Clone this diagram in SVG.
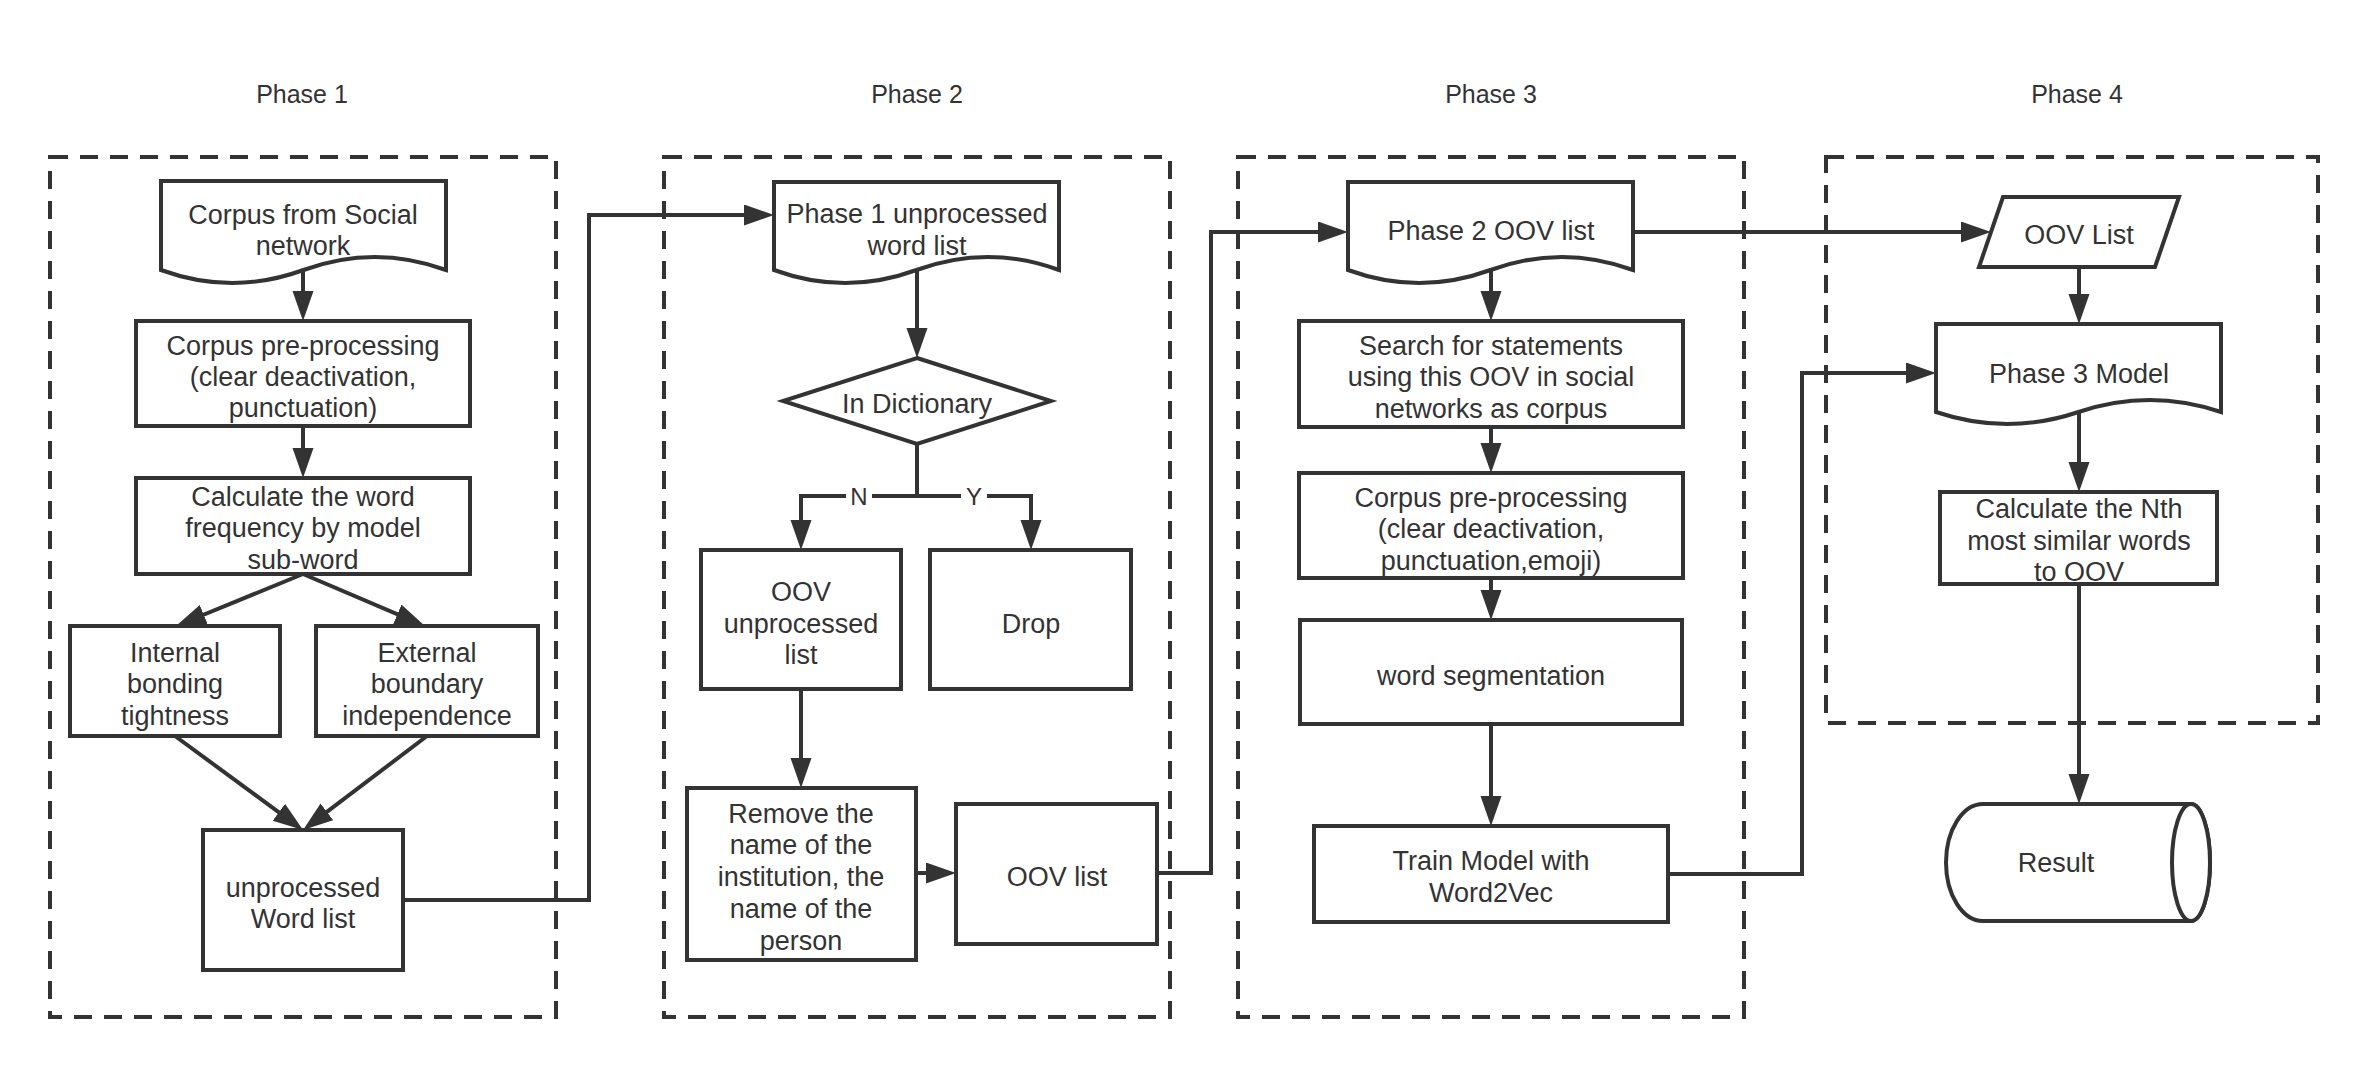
<svg xmlns="http://www.w3.org/2000/svg" width="2368" height="1068" viewBox="0 0 2368 1068">
<defs>
<marker id="arr" markerUnits="userSpaceOnUse" markerWidth="30" markerHeight="22" refX="22" refY="10.5" orient="auto">
<path d="M0,0 L30,10.5 L0,21 Z" fill="#333333"/>
</marker>
<style>
.t{font-family:"Liberation Sans",Arial,Helvetica,sans-serif;font-size:27px;fill:#333333;text-anchor:middle}
.ph{font-family:"Liberation Sans",Arial,Helvetica,sans-serif;font-size:25px;fill:#333333;text-anchor:middle}
.lb{font-family:"Liberation Sans",Arial,Helvetica,sans-serif;font-size:24px;fill:#333333;text-anchor:middle}
.n{fill:#ffffff;stroke:#333333;stroke-width:4}
.dash{fill:none;stroke:#333333;stroke-width:4;stroke-dasharray:18 12}
.c{fill:none;stroke:#333333;stroke-width:4;marker-end:url(#arr)}
.cn{fill:none;stroke:#333333;stroke-width:4}
</style>
</defs>
<rect width="2368" height="1068" fill="#ffffff"/>

<g id="phases">
<text class="ph" x="302" y="103">Phase 1</text>
<text class="ph" x="917" y="103">Phase 2</text>
<text class="ph" x="1491" y="103">Phase 3</text>
<text class="ph" x="2077" y="103">Phase 4</text>
<rect class="dash" x="50" y="157" width="506" height="860"/>
<rect class="dash" x="664" y="157" width="506" height="860"/>
<rect class="dash" x="1238" y="157" width="506" height="860"/>
<rect class="dash" x="1826" y="157" width="492" height="566"/>
</g>

<g id="connectors">
<path class="c" d="M303,270 V313"/>
<path class="c" d="M303,426 V470"/>
<path class="c" d="M303,574 L183.4,623"/>
<path class="c" d="M303,574 L417.6,622.9"/>
<path class="c" d="M175,736 L296.6,825.3"/>
<path class="c" d="M427,736 L309.4,825.2"/>
<path class="c" d="M403,900 H589 V215 H766"/>
<path class="c" d="M917,270 V350"/>
<path class="c" d="M917,444 V496 H801 V542"/>
<path class="c" d="M917,496 H1031 V542"/>
<path class="c" d="M801,689 V780"/>
<path class="c" d="M916,873 H948"/>
<path class="c" d="M1157,873 H1211 V232 H1340"/>
<path class="c" d="M1491,270 V313"/>
<path class="c" d="M1491,427 V465"/>
<path class="c" d="M1491,578 V612"/>
<path class="c" d="M1491,724 V818"/>
<path class="c" d="M1668,874 H1802 V373 H1928"/>
<path class="c" d="M1633,232 H1983"/>
<path class="c" d="M2079,267 V316"/>
<path class="c" d="M2079,412 V484"/>
<path class="c" d="M2079,584 V796"/>
<rect x="846" y="484" width="26" height="26" fill="#ffffff"/>
<text class="lb" x="859" y="505">N</text>
<rect x="961" y="484" width="26" height="26" fill="#ffffff"/>
<text class="lb" x="974" y="505">Y</text>
</g>

<g id="corpus-social">
<path class="n" d="M161,181 H446 V270 Q374.75,244 303.5,270 Q232.25,296 161,270 Z"/>
<text class="t" x="303" y="224">Corpus from Social</text>
<text class="t" x="303" y="255">network</text>
</g>
<g id="preprocess1">
<rect class="n" x="136" y="321" width="334" height="105"/>
<text class="t" x="303" y="355">Corpus pre-processing</text>
<text class="t" x="303" y="386">(clear deactivation,</text>
<text class="t" x="303" y="417">punctuation)</text>
</g>
<g id="calc-freq">
<rect class="n" x="136" y="478" width="334" height="96"/>
<text class="t" x="303" y="506">Calculate the word</text>
<text class="t" x="303" y="537">frequency by model</text>
<text class="t" x="303" y="569">sub-word</text>
</g>
<g id="internal">
<rect class="n" x="70" y="626" width="210" height="110"/>
<text class="t" x="175" y="662">Internal</text>
<text class="t" x="175" y="693">bonding</text>
<text class="t" x="175" y="725">tightness</text>
</g>
<g id="external">
<rect class="n" x="316" y="626" width="222" height="110"/>
<text class="t" x="427" y="662">External</text>
<text class="t" x="427" y="693">boundary</text>
<text class="t" x="427" y="725">independence</text>
</g>
<g id="unprocessed">
<rect class="n" x="203" y="830" width="200" height="140"/>
<text class="t" x="303" y="897">unprocessed</text>
<text class="t" x="303" y="928">Word list</text>
</g>

<g id="phase1-list">
<path class="n" d="M774,182 H1059 V270 Q987.75,244 916.5,270 Q845.25,296 774,270 Z"/>
<text class="t" x="917" y="223">Phase 1 unprocessed</text>
<text class="t" x="917" y="255">word list</text>
</g>
<g id="in-dictionary">
<path class="n" d="M917,358 L1051,401 L917,444 L783,401 Z"/>
<text class="t" x="917" y="413">In Dictionary</text>
</g>
<g id="oov-unprocessed">
<rect class="n" x="701" y="550" width="200" height="139"/>
<text class="t" x="801" y="601">OOV</text>
<text class="t" x="801" y="633">unprocessed</text>
<text class="t" x="801" y="664">list</text>
</g>
<g id="drop">
<rect class="n" x="930" y="550" width="201" height="139"/>
<text class="t" x="1031" y="633">Drop</text>
</g>
<g id="remove-names">
<rect class="n" x="687" y="788" width="229" height="172"/>
<text class="t" x="801" y="823">Remove the</text>
<text class="t" x="801" y="854">name of the</text>
<text class="t" x="801" y="886">institution, the</text>
<text class="t" x="801" y="918">name of the</text>
<text class="t" x="801" y="950">person</text>
</g>
<g id="oov-list-2">
<rect class="n" x="956" y="804" width="201" height="140"/>
<text class="t" x="1057" y="886">OOV list</text>
</g>

<g id="phase2-oov">
<path class="n" d="M1348,182 H1633 V270 Q1561.75,244 1490.5,270 Q1419.25,296 1348,270 Z"/>
<text class="t" x="1491" y="240">Phase 2 OOV list</text>
</g>
<g id="search">
<rect class="n" x="1299" y="321" width="384" height="106"/>
<text class="t" x="1491" y="355">Search for statements</text>
<text class="t" x="1491" y="386">using this OOV in social</text>
<text class="t" x="1491" y="418">networks as corpus</text>
</g>
<g id="preprocess2">
<rect class="n" x="1299" y="473" width="384" height="105"/>
<text class="t" x="1491" y="507">Corpus pre-processing</text>
<text class="t" x="1491" y="538">(clear deactivation,</text>
<text class="t" x="1491" y="570">punctuation,emoji)</text>
</g>
<g id="segmentation">
<rect class="n" x="1300" y="620" width="382" height="104"/>
<text class="t" x="1491" y="685">word segmentation</text>
</g>
<g id="train">
<rect class="n" x="1314" y="826" width="354" height="96"/>
<text class="t" x="1491" y="870">Train Model with</text>
<text class="t" x="1491" y="902">Word2Vec</text>
</g>

<g id="oov-list-input">
<path class="n" d="M2003,197 H2179 L2155,267 H1979 Z"/>
<text class="t" x="2079" y="244">OOV List</text>
</g>
<g id="phase3-model">
<path class="n" d="M1936,324 H2221 V412 Q2149.75,388 2078.5,412 Q2007.25,436 1936,412 Z"/>
<text class="t" x="2079" y="383">Phase 3 Model</text>
</g>
<g id="calc-similar">
<rect class="n" x="1940" y="492" width="277" height="92"/>
<text class="t" x="2079" y="518">Calculate the Nth</text>
<text class="t" x="2079" y="550">most similar words</text>
<text class="t" x="2079" y="581">to OOV</text>
</g>
<g id="result">
<path class="n" d="M1983,804 H2191 A19,58.5 0 0 1 2191,921 H1983 A37,58.5 0 0 1 1983,804 Z"/>
<ellipse class="n" cx="2191" cy="862.5" rx="19" ry="58.5"/>
<text class="t" x="2056" y="872">Result</text>
</g>
</svg>
